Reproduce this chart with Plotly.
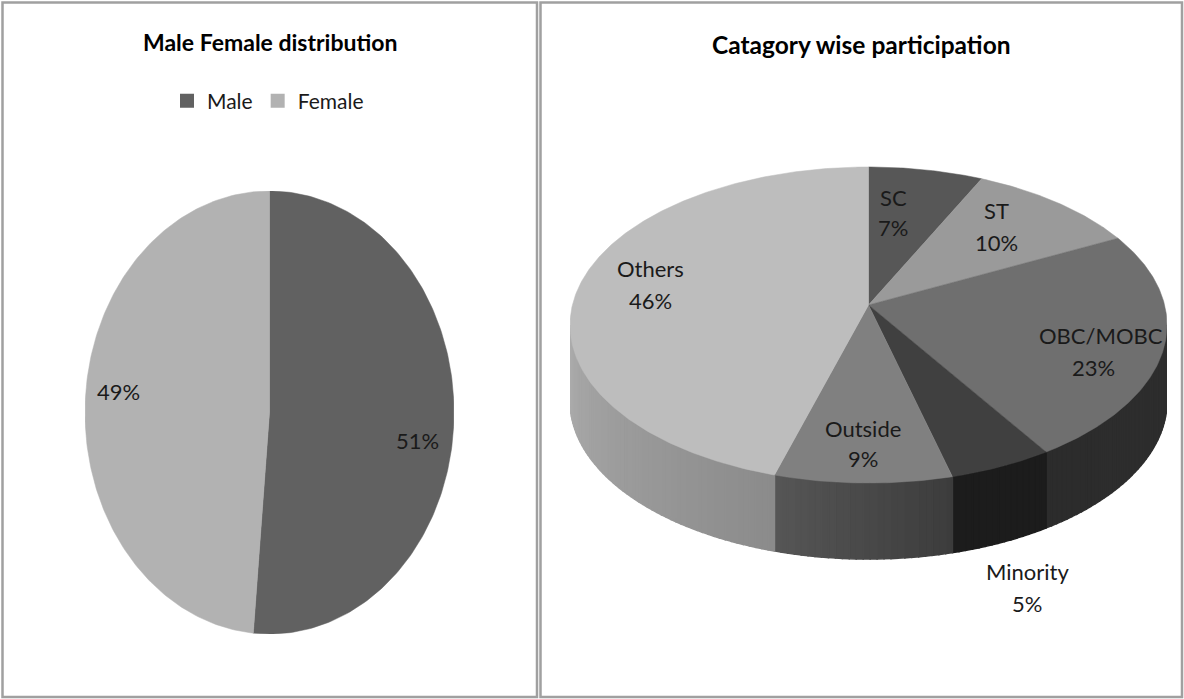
import math
import plotly.graph_objects as go

W, H = 1184, 699

# ---- data ----
gender_names = ["Male", "Female"]
gender_values = [51.4, 48.6]
gender_labels = ["51%", "49%"]
gender_colors = ["#616161", "#b2b2b2"]

cat_names = ["SC", "ST", "OBC/MOBC", "Minority", "Outside", "Others"]
cat_values = [7.0, 10.5, 23.5, 5.0, 8.5, 45.5]
cat_labels = ["7%", "10%", "23%", "5%", "9%", "46%"]
cat_top_colors = ["#575757", "#9a9a9a", "#6f6f6f", "#404040", "#808080", "#bdbdbd"]
cat_side_from = [None, None, 0x2e, 0x1c, 0x3c, 0x8b]
cat_side_to = [None, None, 0x2c, 0x1c, 0x56, 0xac]

FONT = "Lato"
K = 0.1266                 # perspective of the tilted pie
DEPTH = 76 / 155.5         # pie thickness in y units


def px_x(p):
    return p / W


def px_y(p):
    return 1 - p / H


def cum_angles(values):
    total = sum(values)
    out, c = [0.0], 0.0
    for v in values:
        c += v
        out.append(c / total * 2 * math.pi)
    return out


def frange(a, b, n):
    return [a + (b - a) * i / n for i in range(n + 1)]


def project(theta, drop=0.0):
    sx, cy = math.sin(theta), math.cos(theta)
    w = 1 + K * cy
    return sx / w * math.sqrt(1 - K * K), cy / w - drop


fig = go.Figure()

# ---- left: flat pie drawn as an ellipse through its axes ----
ang = cum_angles(gender_values)
for i, name in enumerate(gender_names):
    ts = frange(ang[i], ang[i + 1], 180)
    fig.add_trace(go.Scatter(
        x=[0] + [math.sin(t) for t in ts] + [0],
        y=[0] + [math.cos(t) for t in ts] + [0],
        mode="lines", fill="toself", fillcolor=gender_colors[i],
        line=dict(color=gender_colors[i], width=0.5),
        name=name, showlegend=False, hoverinfo="name",
        xaxis="x", yaxis="y"))

# legend keys
for i, name in enumerate(gender_names):
    fig.add_trace(go.Scatter(
        x=[None], y=[None], mode="markers", name=name,
        marker=dict(symbol="square", size=14, color=gender_colors[i]),
        xaxis="x", yaxis="y"))

# ---- right: tilted pie with a gradient rim ----
ang = cum_angles(cat_values)
vis_a = math.acos(-K)
vis_b = 2 * math.pi - vis_a
for i, name in enumerate(cat_names):
    a, b = max(ang[i], vis_a), min(ang[i + 1], vis_b)
    if a >= b or cat_side_from[i] is None:
        continue
    n = max(4, int((b - a) / 0.02))
    ts = frange(a, b, n)
    for j in range(n):
        f = (j + 0.5) / n
        g = round(cat_side_from[i] + (cat_side_to[i] - cat_side_from[i]) * f)
        col = f"rgb({g},{g},{g})"
        p0, p1 = project(ts[j]), project(ts[j + 1])
        q1, q0 = project(ts[j + 1], DEPTH), project(ts[j], DEPTH)
        fig.add_trace(go.Scatter(
            x=[p0[0], p1[0], q1[0], q0[0], p0[0]],
            y=[p0[1], p1[1], q1[1], q0[1], p0[1]],
            mode="lines", fill="toself", fillcolor=col,
            line=dict(color=col, width=1.5),
            showlegend=False, hoverinfo="skip", xaxis="x2", yaxis="y2"))

for i, name in enumerate(cat_names):
    ts = frange(ang[i], ang[i + 1], max(8, int((ang[i + 1] - ang[i]) / 0.01)))
    pts = [project(t) for t in ts]
    fig.add_trace(go.Scatter(
        x=[0] + [p[0] for p in pts] + [0],
        y=[0] + [p[1] for p in pts] + [0],
        mode="lines", fill="toself", fillcolor=cat_top_colors[i],
        line=dict(color=cat_top_colors[i], width=0.5),
        name=name, showlegend=False, hoverinfo="name",
        xaxis="x2", yaxis="y2"))

# ---- text ----
ann = []


def text(s, x, y, size=22, bold=False):
    ann.append(dict(
        text=f"<b>{s}</b>" if bold else s, x=px_x(x), y=px_y(y),
        xref="paper", yref="paper", showarrow=False,
        xanchor="center", yanchor="middle",
        font=dict(family=FONT, size=size, color="#1a1a1a" if not bold else "#000000")))


text("Male Female distribution", 270, 42, 23, True)
text("Catagory wise participation", 861, 44, 24.5, True)
for lab, (x, y) in zip(gender_labels, [(417, 440), (118, 391)]):
    text(lab, x, y)
for nm, lab, (x, y1, x2, y2) in zip(cat_names, cat_labels, [
        (893, 197, 893, 228), (996, 210, 996, 243), (1101, 335, 1093, 367),
        (1027, 571, 1027, 603), (863, 428, 863, 459), (650, 268, 650, 300)]):
    text(nm, x, y1)
    text(lab, x2, y2)

frame = dict(color="#a0a0a0", width=2.5)
shapes = [
    dict(type="rect", xref="paper", yref="paper", x0=px_x(2.5), x1=px_x(537),
         y0=px_y(2.5), y1=px_y(697), line=frame, layer="below"),
    dict(type="rect", xref="paper", yref="paper", x0=px_x(540.5), x1=px_x(1182),
         y0=px_y(2.5), y1=px_y(697), line=frame, layer="below"),
]

noaxis = dict(visible=False, showgrid=False, zeroline=False, fixedrange=True)
fig.update_layout(
    width=W, height=H, autosize=False,
    margin=dict(l=0, r=0, t=0, b=0),
    paper_bgcolor="white", plot_bgcolor="rgba(0,0,0,0)",
    annotations=ann, shapes=shapes,
    showlegend=True,
    legend=dict(orientation="h", x=px_x(167), y=px_y(101), xanchor="left", yanchor="middle",
                font=dict(family=FONT, size=21, color="#1a1a1a"), itemwidth=30,
                bgcolor="rgba(0,0,0,0)", itemclick=False, itemdoubleclick=False),
    xaxis=dict(domain=[px_x(85), px_x(454)], range=[-1, 1], **noaxis),
    yaxis=dict(domain=[px_y(634), px_y(191)], range=[-1, 1], anchor="x", **noaxis),
    # right pie: rim spans x 570..1167; y 1 unit = 155.5 px with apex at y=305
    xaxis2=dict(domain=[px_x(570), px_x(1167)], range=[-1, 1], anchor="y2", **noaxis),
    yaxis2=dict(domain=[px_y(565), px_y(160)], anchor="x2",
                range=[-(565 - 305) / 155.5, (305 - 160) / 155.5], **noaxis),
)

fig.write_html("out.html", post_script="document.body.style.margin='0';",
               config=dict(displayModeBar=False))
